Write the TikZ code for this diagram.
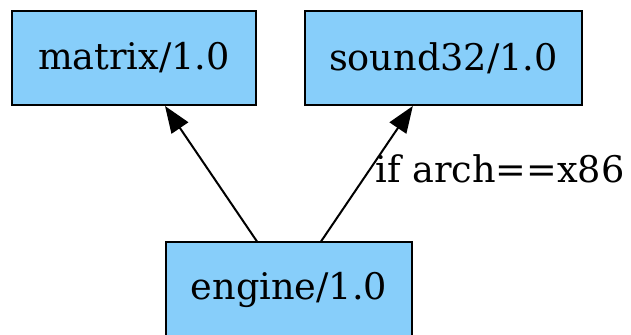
\documentclass[tikz,border=0pt]{standalone}
\usepackage{fontspec}
\setmainfont{DejaVu Serif}
\usetikzlibrary{arrows.meta}
\definecolor{pkgblue}{HTML}{87CEFA}

\begin{document}
\begin{tikzpicture}[x=0.75pt,y=0.75pt,
    pkg/.style={draw=black, line width=1.5pt, fill=pkgblue, inner sep=0pt,
                minimum height=70.5pt, font=\fontsize{27.5}{32}\selectfont},
    dep/.style={line width=1.5pt, -{Triangle[length=20pt,width=15pt]}}]
    % Frame of the picture
    \useasboundingbox (0,0) rectangle (631,335);

    % Package boxes
    \node[pkg, minimum width=183pt] (matrix) at (134,277) {matrix/1.0};
    \node[pkg, minimum width=208pt] (sound) at (443.5,277) {sound32/1.0};
    \node[pkg, minimum width=184.5pt] (engine) at (289,45.5) {engine/1.0};

    % Dependencies
    \draw[dep] ([xshift=-24pt]engine.north) -- ([xshift=23.25pt]matrix.south);
    \draw[dep] ([xshift=24pt]engine.north) -- ([xshift=-23pt]sound.south);

    % Condition on the second edge
    \node[anchor=base west, inner sep=0pt, font=\fontsize{27.5}{32}\selectfont]
        (cond) at (375,152) {if arch==x86};
\end{tikzpicture}
\end{document}
